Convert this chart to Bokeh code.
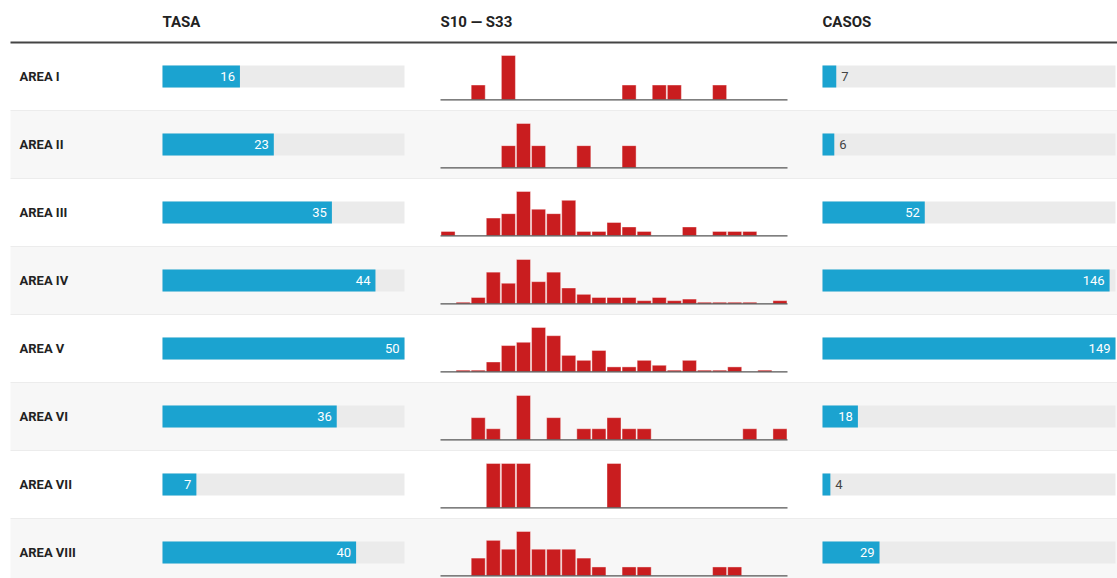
from bokeh.plotting import figure
from bokeh.models import Range1d, ColumnDataSource
from bokeh.embed import file_html
from bokeh.resources import INLINE
from bokeh.core.properties import value

# ---------------- data ----------------
areas = ["AREA I", "AREA II", "AREA III", "AREA IV",
         "AREA V", "AREA VI", "AREA VII", "AREA VIII"]
tasa = [16, 23, 35, 44, 50, 36, 7, 40]
casos = [7, 6, 52, 146, 149, 18, 4, 29]
headers = ["TASA", "S10 \u2014 S33", "CASOS"]
weeks = list(range(10, 33))

w_area_i    = [0, 0, 1, 0, 3, 0, 0, 0, 0, 0, 0, 0, 1, 0, 1, 1, 0, 0, 1, 0, 0, 0, 0]
w_area_ii   = [0, 0, 0, 0, 1, 2, 1, 0, 0, 1, 0, 0, 1, 0, 0, 0, 0, 0, 0, 0, 0, 0, 0]
w_area_iii  = [1, 0, 0, 4, 5, 10, 6, 5, 8, 1, 1, 3, 2, 1, 0, 0, 2, 0, 1, 1, 1, 0, 0]
w_area_iv   = [0, 1, 4, 20, 13, 28, 14, 20, 10, 6, 4, 4, 4, 2, 4, 2, 3, 1, 1, 1, 1, 0, 2]
w_area_v    = [0, 1, 1, 6, 16, 18, 27, 22, 10, 7, 13, 3, 3, 7, 4, 1, 7, 1, 1, 3, 0, 1, 0]
w_area_vi   = [0, 0, 2, 1, 0, 4, 0, 2, 0, 1, 1, 2, 1, 1, 0, 0, 0, 0, 0, 0, 1, 0, 1]
w_area_vii  = [0, 0, 0, 1, 1, 1, 0, 0, 0, 0, 0, 1, 0, 0, 0, 0, 0, 0, 0, 0, 0, 0, 0]
w_area_viii = [0, 0, 2, 4, 3, 5, 3, 3, 3, 2, 1, 0, 1, 1, 0, 0, 0, 0, 1, 1, 0, 0, 0]
weekly = [w_area_i, w_area_ii, w_area_iii, w_area_iv,
          w_area_v, w_area_vi, w_area_vii, w_area_viii]

# ---------------- layout constants ----------------
W, H = 1117, 578
ROW_PX = 68.0
FIRST_ROW_PX = 76.0
FONT = value("Roboto")
BLUE = "#1ba3d0"
TRACK = "#ebebeb"
RED = "#c91d1f"
BAND = "#f7f7f7"

n = len(areas)
top_units = -FIRST_ROW_PX / ROW_PX
bottom_units = top_units + H / ROW_PX


def px_range(origin_px, origin_val, ppu):
    return Range1d(start=origin_val - origin_px / ppu,
                   end=origin_val + (W - origin_px) / ppu)


tasa_max = max(tasa)
casos_max = max(casos)
tasa_ppu = 242.0 / tasa_max
casos_ppu = 293.0 / casos_max
week_ppu = 347.0 / len(weeks)

p = figure(width=W, height=H, output_backend="svg", toolbar_location=None,
           x_range=Range1d(0, W), y_range=Range1d(bottom_units, top_units),
           x_axis_type=None, y_axis_type=None, min_border=0,
           outline_line_color=None, background_fill_color="white",
           border_fill_color="white")
p.extra_x_ranges = {
    "tasa": px_range(162, 0, tasa_ppu),
    "casos": px_range(822, 0, casos_ppu),
    "week": px_range(440, weeks[0] - 0.5, week_ppu),
}

rows = list(range(n))
LEFT = 10

# row bands
band_rows = [i for i in rows if i % 2 == 1]
p.quad(left=LEFT, right=W, top=[i - 0.5 for i in band_rows],
       bottom=[i + 0.5 for i in band_rows], fill_color=BAND, line_color=None)
# row separators
p.segment(x0=LEFT, x1=W, y0=[i - 0.5 for i in rows[1:]], y1=[i - 0.5 for i in rows[1:]],
          line_color="#ececec", line_width=1)
# header rule
p.segment(x0=[LEFT], x1=[W], y0=[-0.5], y1=[-0.5], line_color="#444444", line_width=2)

# headers
hy = -0.80
hdr = dict(text_font=FONT, text_font_style="bold", text_font_size="15px",
           text_color="#222222", text_baseline="middle", text_align="left")
p.text(x=[0], y=[hy], text=[headers[0]], x_range_name="tasa", **hdr)
p.text(x=[weeks[0] - 0.5], y=[hy], text=[headers[1]], x_range_name="week", **hdr)
p.text(x=[0], y=[hy], text=[headers[2]], x_range_name="casos", **hdr)

# row labels
p.text(x=19, y=rows, text=areas, text_font=FONT, text_font_style="bold",
       text_font_size="13px", text_color="#222222", text_baseline="middle",
       text_align="left")

BAR_H = 22 / ROW_PX

# TASA
p.hbar(y=rows, left=0, right=tasa_max, height=BAR_H, x_range_name="tasa",
       fill_color=TRACK, line_color=None)
p.hbar(y=rows, left=0, right=tasa, height=BAR_H, x_range_name="tasa",
       fill_color=BLUE, line_color=None)
p.text(x=tasa, y=rows, text=[str(v) for v in tasa], x_range_name="tasa",
       x_offset=-5, text_font=FONT, text_font_size="13px", text_color="white",
       text_baseline="middle", text_align="right")

# CASOS
p.hbar(y=rows, left=0, right=casos_max, height=BAR_H, x_range_name="casos",
       fill_color=TRACK, line_color=None)
p.hbar(y=rows, left=0, right=casos, height=BAR_H, x_range_name="casos",
       fill_color=BLUE, line_color=None)
inside = [i for i in rows if casos[i] * casos_ppu >= 25]
outside = [i for i in rows if casos[i] * casos_ppu < 25]
p.text(x=[casos[i] for i in inside], y=inside, text=[str(casos[i]) for i in inside],
       x_range_name="casos", x_offset=-5, text_font=FONT, text_font_size="13px",
       text_color="white", text_baseline="middle", text_align="right")
p.text(x=[casos[i] for i in outside], y=outside, text=[str(casos[i]) for i in outside],
       x_range_name="casos", x_offset=5, text_font=FONT, text_font_size="13px",
       text_color="#444444", text_baseline="middle", text_align="left")

# weekly histograms
BASE = 0.343
HMAX = 0.652
xs, tops, bottoms = [], [], []
for i, series in enumerate(weekly):
    m = max(series)
    for wk, v in zip(weeks, series):
        if v > 0:
            xs.append(wk)
            bottoms.append(i + BASE)
            tops.append(i + BASE - v / m * HMAX)
src = ColumnDataSource(dict(x=xs, top=tops, bottom=bottoms))
p.vbar(x="x", top="top", bottom="bottom", width=0.93, source=src,
       x_range_name="week", fill_color=RED, line_color="white", line_alpha=0.5,
       line_width=0.8)
p.segment(x0=weeks[0] - 0.5, x1=weeks[-1] + 0.5, y0=[i + BASE for i in rows],
          y1=[i + BASE for i in rows], x_range_name="week",
          line_color="#555555", line_width=1.2)

open("out.html", "w").write(file_html(p, INLINE))
